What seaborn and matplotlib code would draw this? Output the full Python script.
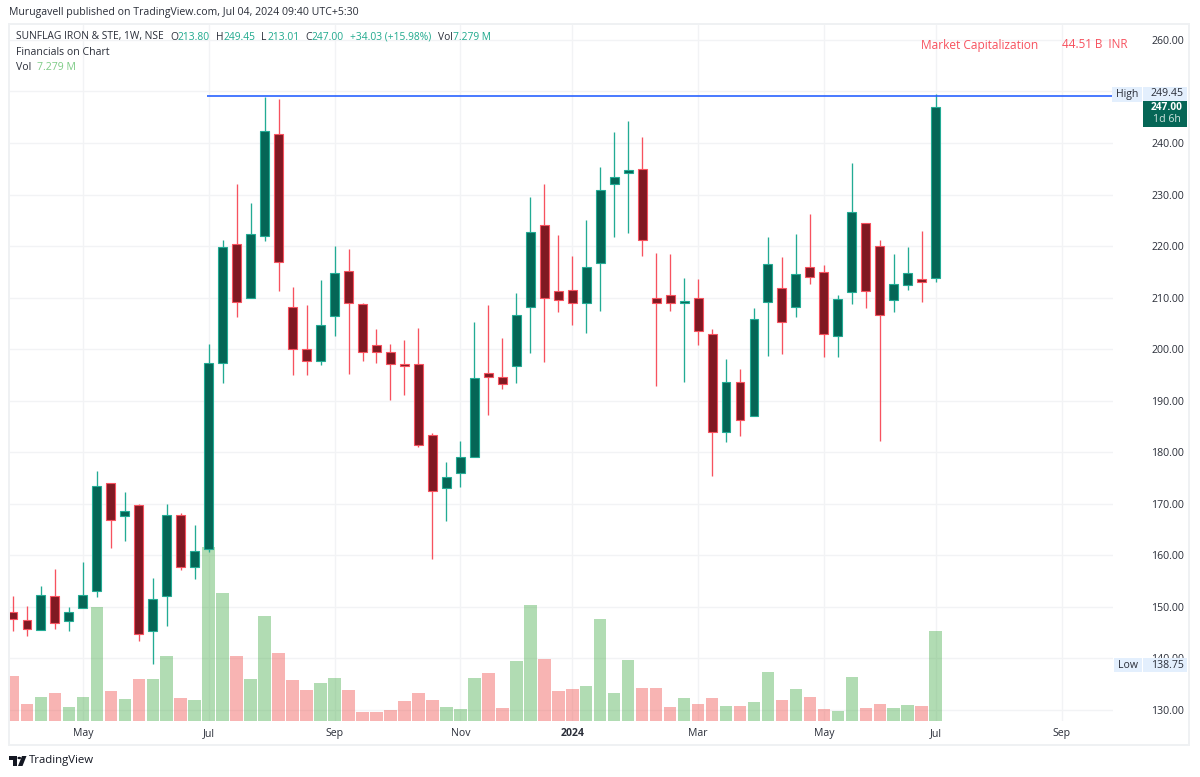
import matplotlib
matplotlib.use("Agg")
import matplotlib.pyplot as plt
from matplotlib.patches import Rectangle, Polygon, Circle
import seaborn as sns
import pandas as pd
import numpy as np

opens = [149.0,147.4,145.5,152.1,147.3,149.8,153.0,174.0,167.6,169.8,145.3,152.1,167.8,157.8,161.3,197.4,220.5,209.9,221.9,241.7,
         208.1,200.0,197.8,206.5,215.2,208.8,200.9,199.4,197.1,197.2,183.3,173.1,176.0,179.1,195.4,194.7,196.7,208.1,224.0,211.2,
         211.4,209.0,216.7,232.0,234.1,235.0,210.0,210.6,209.0,210.0,202.9,184.0,193.7,187.1,209.1,211.9,208.1,216.0,215.0,202.5,
         211.0,224.5,220.1,209.6,212.5,213.6,213.8]
closes = [147.6,145.8,152.4,146.9,149.0,152.3,173.4,166.8,168.7,144.7,151.6,167.8,157.8,160.8,197.4,219.8,209.1,222.3,242.4,217.0,
          200.0,197.8,204.6,214.8,208.9,199.4,199.4,197.2,196.7,181.4,172.5,175.2,179.1,194.4,194.7,193.3,206.7,222.7,210.0,209.5,
          209.0,215.9,230.8,233.4,234.8,221.1,209.0,209.0,209.3,203.5,184.0,193.7,186.2,205.9,216.5,205.3,214.5,214.1,202.9,209.7,
          226.6,211.2,206.7,212.6,214.8,213.1,247.0]
highs = [152.1,150.2,154.1,157.4,149.9,158.8,176.4,174.0,172.2,170.0,155.6,170.0,168.2,165.9,201.0,221.2,232.0,228.4,249.0,248.6,
         212.1,208.5,213.4,220.0,219.4,209.0,203.9,201.0,201.8,204.2,183.7,178.1,182.2,205.2,208.5,202.2,210.9,229.6,232.1,222.1,
         218.0,225.1,235.3,242.1,244.3,241.2,218.7,218.5,213.9,213.7,204.0,198.1,196.2,207.9,221.8,217.8,222.3,226.2,216.3,210.5,
         236.2,224.5,221.2,218.5,219.9,222.9,249.45]
lows = [145.3,144.4,145.5,145.8,145.3,149.8,151.9,161.4,162.8,143.4,138.9,146.2,157.2,155.5,160.7,193.5,206.3,209.9,221.0,211.2,
        195.0,195.0,196.9,202.5,195.2,197.8,197.3,190.1,191.2,181.0,159.3,166.7,173.3,179.0,187.3,192.3,193.5,199.2,197.6,207.2,
        204.6,203.2,207.5,221.7,222.6,218.0,192.9,207.5,193.6,200.9,175.3,181.9,183.2,187.1,198.6,199.1,206.3,212.7,198.4,198.4,
        208.7,207.9,182.1,207.3,211.5,209.2,213.01]
volumes = [3.64,1.39,1.90,2.25,1.11,1.90,9.27,2.42,1.77,3.42,3.42,5.24,1.85,1.68,14.13,10.41,5.24,3.37,8.53,5.51,
           3.29,2.47,3.04,3.50,2.47,0.71,0.71,0.87,1.60,2.25,1.66,1.09,0.95,3.50,3.86,1.03,4.86,9.45,5.03,2.39,
           2.61,2.83,8.29,2.25,4.95,2.69,2.63,1.09,1.82,1.36,1.82,1.17,1.17,1.52,3.99,1.68,2.55,1.96,0.95,0.79,
           3.56,1.03,1.33,1.00,1.30,1.22,7.279]
month_positions = [5, 14, 23, 32, 40, 49, 58, 66, 75]
month_labels = ["May", "Jul", "Sep", "Nov", "2024", "Mar", "May", "Jul", "Sep"]
price_ticks = [130, 140, 150, 160, 170, 180, 190, 200, 210, 220, 230, 240, 250, 260]
high_line = 249.1

UP_BODY, UP_LINE = "#056656", "#22ab94"
DN_BODY, DN_LINE = "#801922", "#f7525f"
TEXT = "#2a2e39"
GRID = "#f2f3f5"
FS = 7.6

sns.set_theme(style="white")
plt.rcParams["font.family"] = ["Open Sans", "DejaVu Sans"]

W, H = 1200, 777
df = pd.DataFrame({"week": np.arange(len(opens)), "open": opens, "high": highs,
                   "low": lows, "close": closes, "volume": volumes})
df["dir"] = np.where(df["close"] >= df["open"], "up", "down")

fig = plt.figure(figsize=(W / 100, H / 100), dpi=100, facecolor="white")
L, R, T, B = 9, 1113, 25, 720.7
rect = [L / W, 1 - B / H, (R - L) / W, (B - T) / H]
xlim = (-0.286, 78.68)
ylim = (127.92, 262.9)

# grid + axis labels
ax = fig.add_axes(rect, zorder=0)
ax.set_xlim(xlim)
ax.set_ylim(ylim)
ax.set_yticks(price_ticks)
ax.set_yticklabels([f"{p:.2f}" for p in price_ticks])
ax.set_xticks(month_positions)
ax.set_xticklabels(month_labels)
ax.yaxis.tick_right()
ax.tick_params(axis="y", length=0, pad=27.5, labelsize=FS, labelcolor=TEXT)
ax.tick_params(axis="x", length=0, pad=5, labelsize=FS, labelcolor=TEXT)
for t in ax.get_xticklabels():
    if t.get_text() == "2024":
        t.set_fontweight("bold")
ax.grid(True, color=GRID, linewidth=1.0)
sns.despine(ax=ax, left=True, right=True, top=True, bottom=True)

# volume
axv = fig.add_axes(rect, zorder=1)
axv.patch.set_visible(False)
sns.barplot(data=df, x="week", y="volume", hue="dir", native_scale=True, dodge=False,
            palette={"up": "#4caf50", "down": "#ef5350"}, alpha=0.43, saturation=1,
            width=0.9, linewidth=0, errorbar=None, legend=False, ax=axv)
axv.set_xlim(xlim)
axv.set_ylim(0, 56.7)
axv.axis("off")

# candles
axc = fig.add_axes(rect, zorder=2)
axc.patch.set_visible(False)
up = df["dir"] == "up"
colors_line = np.where(up, UP_LINE, DN_LINE)
colors_body = np.where(up, UP_BODY, DN_BODY)
axc.vlines(df["week"], df["low"], df["high"], colors=colors_line, linewidth=0.95, zorder=2)
top = df[["open", "close"]].max(axis=1)
bot = df[["open", "close"]].min(axis=1)
axc.bar(df["week"], top - bot, bottom=bot, width=0.64, color=colors_body,
        edgecolor=colors_line, linewidth=0.8, zorder=3)
axc.hlines(high_line, 13.85, xlim[1], color="#2962ff", linewidth=1.2, zorder=4)
axc.set_xlim(xlim)
axc.set_ylim(ylim)
axc.axis("off")


def px(x, y):
    return x / W, 1 - y / H


def label(x, y, s, color=TEXT, size=FS, ha="left", **kw):
    fx, fy = px(x, y)
    fig.text(fx, fy, s, color=color, fontsize=size, ha=ha, va="center", zorder=20, **kw)


def box(x0, y0, x1, y1, color):
    fx, fy = px(x0, y1)
    fig.add_artist(Rectangle((fx, fy), (x1 - x0) / W, (y1 - y0) / H, transform=fig.transFigure,
                             facecolor=color, edgecolor="none", zorder=15))


# outer frame
fx, fy = px(8.5, 745)
fig.add_artist(Rectangle((fx, fy), (1188.5 - 8.5) / W, (745 - 24) / H, transform=fig.transFigure,
                         facecolor="none", edgecolor="#eff1f3", linewidth=1.4, zorder=14))

# header
label(9, 13, "Murugavell published on TradingView.com, Jul 04, 2024 09:40 UTC+5:30")
label(16, 37, "SUNFLAG IRON & STE, 1W, NSE", size=7.4)
G = "#1fa98d"
for x, s, c in [(170, "O", TEXT), (177, "213.80", G), (216, "H", TEXT), (223, "249.45", G),
                (261, "L", TEXT), (267, "213.01", G), (305, "C", TEXT), (312, "247.00", G),
                (350, "+34.03 (+15.98%)", G), (438, "Vol", TEXT), (453, "7.279 M", G)]:
    label(x, 37, s, c, size=7.4)
label(16, 52.7, "Financials on Chart")
label(16, 67.7, "Vol")
label(37, 67.7, "7.279 M", "#7ccb85")
label(921, 45, "Market Capitalization", "#f7525f", size=8.6)
label(1062, 45, "44.51 B  INR", "#f7525f", size=8.4)

# price tags
box(1112, 87, 1142, 102, "#e3effd")
box(1143, 87, 1187, 101.5, "#e3effd")
label(1127, 94, "High", ha="center")
label(1167, 94, "249.45", ha="center")
box(1143, 101.5, 1187, 127, "#056656")
label(1167, 107, "247.00", "white", size=7.3, ha="center", fontweight="bold")
label(1167, 119.5, "1d 6h", "#cfe3de", ha="center")
box(1114, 658, 1142, 672, "#e3effd")
box(1143, 658, 1187, 672, "#e3effd")
label(1128, 665, "Low", ha="center")
label(1167, 665, "138.75", ha="center")


def poly(points):
    fig.add_artist(Polygon([px(a, b) for a, b in points], closed=True, transform=fig.transFigure,
                           facecolor="#131722", edgecolor="none", zorder=20))


# TradingView wordmark
poly([(9, 756), (17, 756), (17, 766), (13, 766), (13, 760), (9, 760)])
poly([(22, 756), (26.5, 756), (22.5, 766), (18, 766)])
fig.add_artist(Circle(px(19.3, 758), 1.9 / W, transform=fig.transFigure, facecolor="#131722",
                      edgecolor="none", zorder=20))
label(29, 761, "TradingView", "#131722", size=8.2)

fig.savefig("out.png", dpi=100)
